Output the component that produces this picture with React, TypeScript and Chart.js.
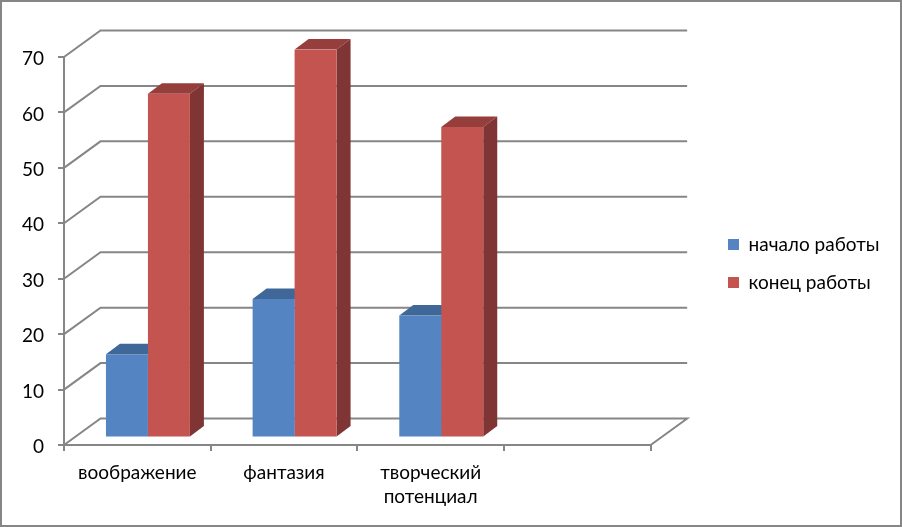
import React, { useEffect, useRef } from "react";
import { Chart, registerables } from "chart.js";

Chart.register(...registerables);

const categories: (string | string[])[] = ["воображение", "фантазия", ["творческий", "потенциал"], ""];
const startValues = [15, 25, 22, null];
const endValues = [62, 70, 56, null];
const yTicks = [0, 10, 20, 30, 40, 50, 60, 70];
const seriesNames = ["начало работы", "конец работы"];

const FONT = "Lato, Carlito, Calibri, sans-serif";
const GRID = "#868686";
const WALL = { dx: 36.5, dy: -26.5 };
const BAR_SHIFT = { dx: 10.6, dy: -7.5 };
const BAR_DEPTH = { dx: 14, dy: -10.5 };
const FACES = [
  { top: "#3F6899", side: "#375B87" },
  { top: "#953E3B", side: "#7E3533" },
];

const poly = (ctx: CanvasRenderingContext2D, pts: number[][], fill: string) => {
  ctx.beginPath();
  pts.forEach(([x, y], i) => (i ? ctx.lineTo(x, y) : ctx.moveTo(x, y)));
  ctx.closePath();
  ctx.fillStyle = fill;
  ctx.fill();
};

const threeD = {
  id: "threeD",
  afterLayout(chart: any) {
    const lg = chart.legend;
    lg.left = 709;
    lg.right = 900;
    lg.width = 191;
    lg.top -= 28.5;
    lg.bottom -= 28.5;
  },
  beforeDatasetsDraw(chart: any) {
    const { ctx, chartArea: a, scales } = chart;
    const y = scales.y;
    ctx.save();
    ctx.strokeStyle = GRID;
    ctx.lineWidth = 2;
    yTicks.forEach((v) => {
      const py = y.getPixelForValue(v);
      ctx.beginPath();
      ctx.moveTo(a.left, py);
      ctx.lineTo(a.left + WALL.dx, py + WALL.dy);
      ctx.lineTo(a.right + WALL.dx, py + WALL.dy);
      if (v === 0) ctx.lineTo(a.right, py);
      ctx.stroke();
    });
    ctx.translate(BAR_SHIFT.dx, BAR_SHIFT.dy);
    chart.data.datasets.forEach((ds: any, d: number) => {
      chart.getDatasetMeta(d).data.forEach((bar: any, i: number) => {
        if (ds.data[i] == null) return;
        const p = bar.getProps(["x", "y", "base", "width"], true);
        const l = p.x - p.width / 2;
        const r = p.x + p.width / 2;
        const { dx, dy } = BAR_DEPTH;
        poly(ctx, [[l, p.y], [r, p.y], [r + dx, p.y + dy], [l + dx, p.y + dy]], FACES[d].top);
        poly(ctx, [[r, p.y], [r + dx, p.y + dy], [r + dx, p.base + dy], [r, p.base]], FACES[d].side);
      });
    });
    // the translation stays active so the library's own bars land on the same plane
  },
  afterDatasetsDraw(chart: any) {
    chart.ctx.restore();
  },
  afterDraw(chart: any) {
    const { ctx, width, height } = chart;
    ctx.save();
    ctx.strokeStyle = GRID;
    ctx.lineWidth = 2;
    ctx.strokeRect(1, 1, width - 2, height - 2);
    ctx.restore();
  },
};

export default function App() {
  const ref = useRef<HTMLCanvasElement | null>(null);
  useEffect(() => {
    document.body.style.margin = "0";
    document.body.style.background = "#fff";
    const chart = new Chart(ref.current!, {
      type: "bar",
      data: {
        labels: categories as any,
        datasets: [
          { label: seriesNames[0], data: startValues, backgroundColor: "#5484C2" },
          { label: seriesNames[1], data: endValues, backgroundColor: "#C4544F" },
        ],
      },
      plugins: [threeD],
      options: {
        animation: false,
        responsive: false,
        devicePixelRatio: 1,
        layout: { padding: { top: 57, bottom: 0, left: 0, right: 12 } },
        datasets: { bar: { categoryPercentage: 84 / 146.75, barPercentage: 1 } },
        plugins: {
          tooltip: { enabled: false },
          legend: {
            position: "right",
            labels: {
              boxWidth: 11,
              boxHeight: 11,
              padding: 19,
              color: "#000",
              font: { family: FONT, size: 19 },
            },
          },
        },
        scales: {
          x: {
            grid: { drawOnChartArea: false, color: GRID, lineWidth: 2, tickLength: 6, offset: true },
            border: { color: GRID, width: 2 },
            ticks: {
              color: "#000",
              maxRotation: 0,
              autoSkip: false,
              padding: 10,
              font: { family: FONT, size: 19, lineHeight: 1.27 },
            },
            afterFit(s: any) {
              s.height = 82;
            },
          },
          y: {
            min: 0,
            max: 70,
            afterBuildTicks(s: any) {
              s.ticks = yTicks.map((value) => ({ value }));
            },
            grid: { drawOnChartArea: false, color: GRID, lineWidth: 2, tickLength: 6 },
            border: { color: GRID, width: 2 },
            ticks: { color: "#000", padding: 14, labelOffset: 2, font: { family: FONT, size: 19 } },
            afterFit(s: any) {
              s.width = 64;
            },
          },
          spacer: {
            position: "right",
            display: true,
            grid: { display: false },
            border: { display: false },
            ticks: { display: false },
            afterFit(s: any) {
              s.width = 91;
            },
          },
        },
      } as any,
    });
    return () => chart.destroy();
  }, []);
  return <canvas ref={ref} width={902} height={527} style={{ display: "block", width: 902, height: 527 }} />;
}
